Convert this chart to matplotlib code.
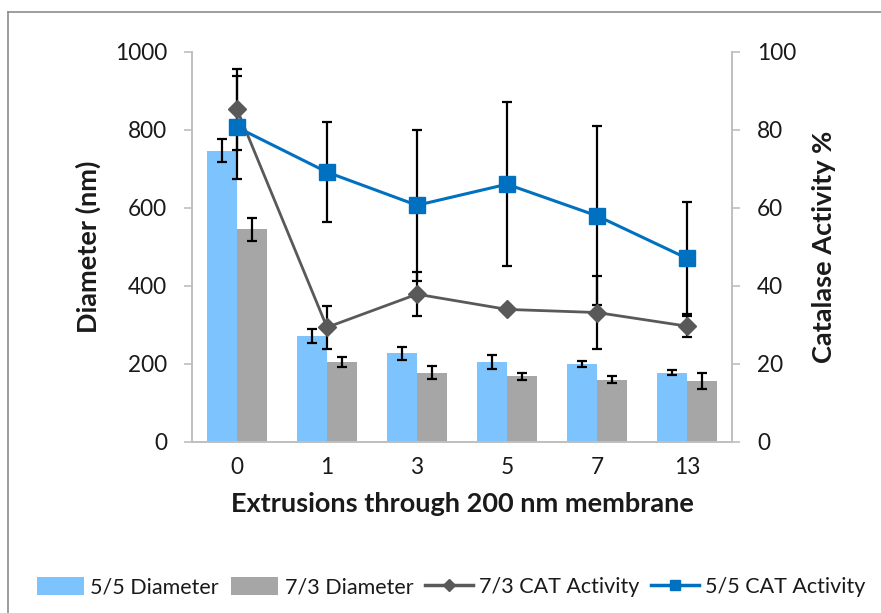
import matplotlib
matplotlib.use("Agg")
import matplotlib.pyplot as plt
import numpy as np
from matplotlib.patches import Patch
from matplotlib.lines import Line2D

plt.rcParams['font.family'] = ['Lato', 'DejaVu Sans']

# Data
extrusions = ["0", "1", "3", "5", "7", "13"]
diam_55 = [747, 273, 227, 205, 200, 178]
diam_55_err = [29, 18, 17, 18, 8, 6]
diam_73 = [545, 205, 178, 168, 160, 156]
diam_73_err = [30, 12, 17, 10, 8, 20]
cat_73 = [85.3, 29.4, 37.9, 34.0, 33.2, 29.7]
cat_73_err = [10.3, 5.6, 5.7, 1.0, 9.4, 2.7]
cat_55 = [80.7, 69.2, 60.7, 66.1, 58.0, 47.1]
cat_55_err = [13.2, 12.9, 19.3, 21.0, 22.9, 14.4]

W, H = 881, 613
fig = plt.figure(figsize=(W / 100, H / 100), dpi=100)
ax = fig.add_axes([192 / W, 1 - 442 / H, 540 / W, 390 / H])
ax2 = ax.twinx()

c_blue_bar = "#7DC4FF"
c_gray_bar = "#A6A6A6"
c_blue_line = "#0070C0"
c_gray_line = "#595959"
txt = "#1a1a1a"
spine_c = "#BFBFBF"

x = np.arange(len(extrusions))
bw = 1 / 3
err_kw = dict(ecolor="black", elinewidth=1.6, capsize=3.6, capthick=1.6)
ax.bar(x - bw / 2, diam_55, bw, color=c_blue_bar, yerr=diam_55_err, error_kw=err_kw, zorder=2)
ax.bar(x + bw / 2, diam_73, bw, color=c_gray_bar, yerr=diam_73_err, error_kw=err_kw, zorder=2)

ax.set_xlim(-0.5, len(extrusions) - 0.5)
ax.set_ylim(0, 1000)
ax.set_yticks(range(0, 1001, 200))
ax.set_xticks(x)
ax.set_xticklabels(extrusions)

ax2.set_ylim(0, 100)
ax2.set_yticks(range(0, 101, 20))

# Catalase activity lines with error bars
ax2.errorbar(x, cat_73, yerr=cat_73_err, fmt="none", ecolor="black", elinewidth=1.6,
             capsize=3.6, capthick=1.6, zorder=3)
ax2.errorbar(x, cat_55, yerr=cat_55_err, fmt="none", ecolor="black", elinewidth=1.6,
             capsize=3.6, capthick=1.6, zorder=3)
ax2.plot(x, cat_73, color=c_gray_line, lw=2.0, marker="D", markersize=9.5,
         markerfacecolor=c_gray_line, markeredgecolor=c_gray_line, zorder=4)
ax2.plot(x, cat_55, color=c_blue_line, lw=2.2, marker="s", markersize=11,
         markerfacecolor=c_blue_line, markeredgecolor=c_blue_line, zorder=5)

for a in (ax, ax2):
    a.spines["top"].set_visible(False)
    for s in ("left", "right", "bottom"):
        a.spines[s].set_color(spine_c)
        a.spines[s].set_linewidth(1.2)

ax.tick_params(axis="y", which="both", direction="out", length=6, width=1.2, color=spine_c,
               labelsize=16.3, labelcolor=txt, pad=12)
ax.tick_params(axis="x", length=0, labelsize=16.3, labelcolor=txt, pad=11)
ax2.tick_params(axis="y", direction="out", length=6, width=1.2, color=spine_c,
                labelsize=16.3, labelcolor=txt, pad=12)

label_kw = dict(fontsize=19.5, fontweight="bold", color=txt)
ax.set_xlabel("Extrusions through 200 nm membrane", labelpad=10, **label_kw)
ax.set_ylabel("Diameter (nm)", labelpad=10, **label_kw)
ax2.set_ylabel("Catalase Activity %", labelpad=11, **label_kw)

# Outer chart border (top and left edges)
fig.add_artist(Line2D([8 / W, 1], [1 - 11.5 / H, 1 - 11.5 / H], color="#8C8C8C", lw=1.2))
fig.add_artist(Line2D([8 / W, 8 / W], [0, 1 - 11.5 / H], color="#8C8C8C", lw=1.2))

handles = [
    Patch(facecolor=c_blue_bar, edgecolor="none"),
    Patch(facecolor=c_gray_bar, edgecolor="none"),
    Line2D([], [], color=c_gray_line, lw=2.5, marker="D", markersize=6),
    Line2D([], [], color=c_blue_line, lw=2.5, marker="s", markersize=7),
]
labels = ["5/5 Diameter", "7/3 Diameter", "7/3 CAT Activity", "5/5 CAT Activity"]
fig.legend(handles, labels, loc="center", bbox_to_anchor=(451 / W, 1 - 587 / H), ncol=4,
           frameon=False, fontsize=15.5, handlelength=2.2, handleheight=0.9,
           handletextpad=0.3, columnspacing=0.55, labelcolor=txt)

fig.savefig("out.png", dpi=100)
